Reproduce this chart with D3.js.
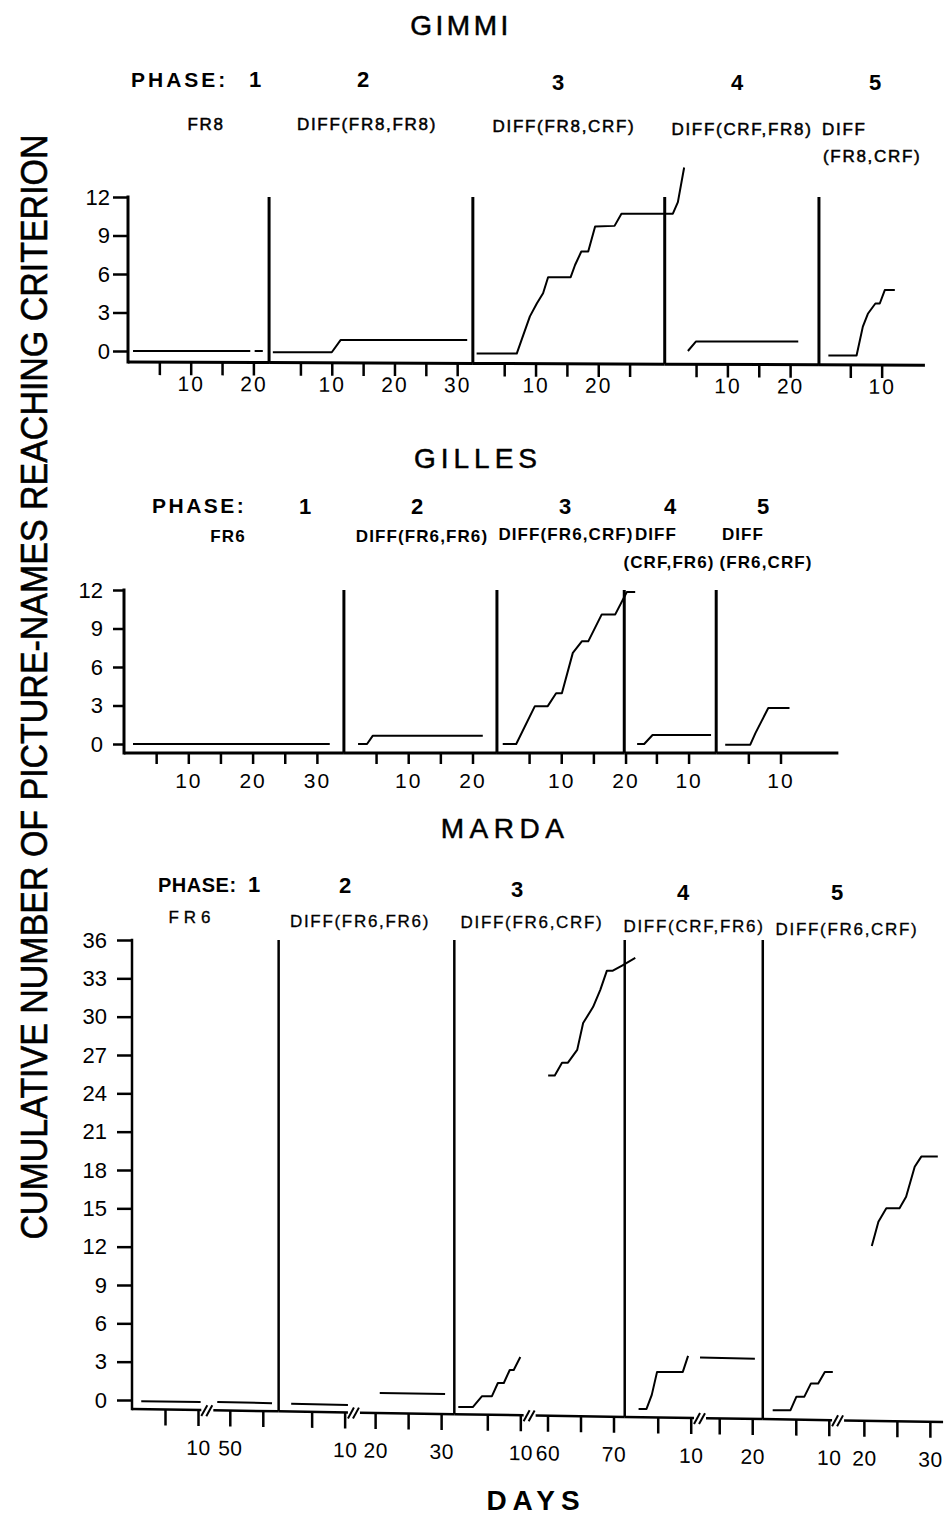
<!DOCTYPE html>
<html>
<head>
<meta charset="utf-8">
<script src="https://cdn.jsdelivr.net/npm/d3@7"></script>
<style>
body { margin: 0; background: #fff; }
svg text { font-family: 'Liberation Sans', Arial, sans-serif; fill: #000; }
</style>
</head>
<body>
<svg id="chart" width="944" height="1515"></svg>
<script>
// ---- data ----
const phaseNumbers = ['1', '2', '3', '4', '5'];
const yAxisTitle = 'CUMULATIVE NUMBER OF PICTURE-NAMES REACHING CRITERION';
const xAxisTitle = 'DAYS';

// GIMMI
const gimmiConditions = [['FR8'], ['DIFF(FR8,FR8)'], ['DIFF(FR8,CRF)'], ['DIFF(CRF,FR8)'], ['DIFF', '(FR8,CRF)']];
const gimmiPhaseDays = [[[0, 22.5]], [[0, 32.5]], [[0, 30.6]], [[0, 24.6]], [[0, 16.9]]];
const gimmiTicks = [[5, 10, 15, 20], [5, 10, 15, 20, 25, 30], [5, 10, 15, 20, 25], [5, 10, 15, 20], [5, 10]];
const gimmiTickLabels = [[10, 20], [10, 20, 30], [10, 20], [10, 20], [10]];
const gimmiYTicks = [0, 3, 6, 9, 12];
const gimmiSeries = [
  [[[0.8, 0], [19.5, 0]], [[20.2, 0], [21.5, 0]]],
  [[[0.6, -0.1], [10, -0.1], [11.4, 0.85], [31.6, 0.85]]],
  [[[0.6, -0.2], [7.0, -0.2], [7.8, 0.9], [9.1, 2.7], [10.2, 3.7], [11.2, 4.5], [12.0, 5.75], [15.6, 5.75],
    [16.3, 6.7], [17.3, 7.75], [18.4, 7.75], [19.5, 9.7], [22.6, 9.75], [23.7, 10.7], [31.9, 10.7],
    [32.7, 11.6], [33.7, 14.3]]],
  [[[3.7, 0], [5.0, 0.75], [21.3, 0.75]]],
  [[[1.5, -0.35], [6.0, -0.35], [7.0, 1.9], [7.8, 2.9], [9.0, 3.7], [9.7, 3.7], [10.5, 4.75], [12.1, 4.75]]]
];

// GILLES
const gillesConditions = [['FR6'], ['DIFF(FR6,FR6)'], ['DIFF(FR6,CRF)'], ['DIFF', '(CRF,FR6)'], ['DIFF', '(FR6,CRF)']];
const gillesPhaseDays = [[[0, 34.2]], [[0, 23.8]], [[0, 19.8]], [[0, 14.3]], [[0, 19]]];
const gillesTicks = [[5, 10, 15, 20, 25, 30], [5, 10, 15, 20], [5, 10, 15, 20], [5, 10], [5, 10]];
const gillesTickLabels = [[10, 20, 30], [10, 20], [10, 20], [10], [10]];
const gillesYTicks = [0, 3, 6, 9, 12];
const gillesSeries = [
  [[[1.4, 0], [32, 0]]],
  [[[2.2, 0], [3.6, 0], [4.5, 0.65], [21.6, 0.65]]],
  [[[0.9, 0], [3.0, 0], [5.9, 2.95], [7.9, 2.95], [9.2, 3.95], [10.1, 3.95], [11.8, 7.1], [13.2, 8.0],
    [14.2, 8.0], [16.3, 10.1], [18.4, 10.1], [20.2, 11.85], [21.5, 11.85]]],
  [[[2.0, 0], [3.1, 0], [4.4, 0.7], [13.5, 0.7]]],
  [[[1.4, -0.05], [5.3, -0.05], [6.1, 0.85], [8.1, 2.8], [11.4, 2.8]]]
];

// MARDA (broken day axis: two visible stretches per phase)
const mardaConditions = [['FR6'], ['DIFF(FR6,FR6)'], ['DIFF(FR6,CRF)'], ['DIFF(CRF,FR6)'], ['DIFF(FR6,CRF)']];
const mardaPhaseDays = [
  [[0, 10.5], [47.5, 57.4]],
  [[0, 10.5], [17.7, 32]],
  [[0, 10.5], [58.2, 71.7]],
  [[0, 10.5], [13, 21.6]],
  [[0, 10.5], [17, 32]]
];
const mardaTicks = [[5, 10, 50, 55], [5, 10, 20, 25, 30], [5, 10, 60, 65, 70], [5, 10, 15, 20], [5, 10, 20, 25, 30]];
const mardaTickLabels = [[10, 50], [10, 20, 30], [10, 60, 70], [10, 20], [10, 20, 30]];
const mardaYTicks = [0, 3, 6, 9, 12, 15, 18, 21, 24, 27, 30, 33, 36];
const mardaSeries = [
  [[[1.4, -0.1], [10.4, -0.15]], [[48.1, -0.15], [56.4, -0.25]]],
  [[[1.9, -0.3], [10.5, -0.4]], [[20.7, 0.55], [30.6, 0.47]]],
  [[[0.6, -0.55], [2.8, -0.55], [4.2, 0.3], [5.7, 0.3], [6.6, 1.33], [7.5, 1.33], [8.4, 2.35], [9.0, 2.35], [10.0, 3.36]],
   [[60.1, 25.4], [61.1, 25.4], [62.2, 26.4], [63.1, 26.4], [64.5, 27.4], [65.4, 29.5], [66.9, 30.75],
    [68.0, 32.1], [69.0, 33.6], [69.9, 33.6], [71.3, 34.0], [73.3, 34.6]]],
  [[[2.1, -0.7], [3.3, -0.7], [4.1, 0.4], [4.9, 2.2], [8.8, 2.2], [9.6, 3.45]], [[11.75, 3.33], [20.4, 3.23]]],
  [[[1.5, -0.8], [4.2, -0.8], [5.1, 0.26], [6.3, 0.26], [7.3, 1.3], [8.4, 1.3], [9.4, 2.2], [10.9, 2.2]],
   [[21.2, 12.05], [22.2, 13.95], [23.4, 15.0], [25.4, 15.0], [26.4, 15.9], [27.7, 18.25], [28.7, 19.05], [31.2, 19.05]]]
];

// ---- layout ----
const panels = [
  {
    name: 'GIMMI', title: [461, 35, 3.5], phaseLabel: [131, 87, 'PHASE:', 3, 21],
    numX: [255, 363, 558, 737, 875], numY: [87, 87, 90, 90, 90],
    conditions: gimmiConditions,
    condPos: [[[206, 130]], [[367, 130]], [[564, 132]], [[742, 135]], [[822, 135, 'start'], [823, 162, 'start']]],
    condSize: 17, condSpacing: 1.7, condWeight: 'normal', condStroke: 0.5,
    phases: gimmiPhaseDays, ticks: gimmiTicks, tickLabels: gimmiTickLabels, yTicks: gimmiYTicks, series: gimmiSeries,
    x0: 128, ppd: 6.27, gap: 0, yMax: 12, yZero: 351, yTop: 197, drop: 11, tilt: 0.004,
    yTickSize: 15, yTickPad: 3, yFont: 22, xTickSize: 13, xTickPad: 1, xFont: 21, xLs: 2,
    axisW: 3, phaseW: 3, lineW: 2
  },
  {
    name: 'GILLES', title: [478, 468, 5], phaseLabel: [152, 513, 'PHASE:', 2.5, 21],
    numX: [305, 417, 565, 670, 763], numY: [514, 514, 514, 514, 514],
    conditions: gillesConditions,
    condPos: [[[228, 542]], [[422, 542]], [[566, 540]], [[656, 540], [669, 568]], [[743, 540], [766, 568]]],
    condSize: 17, condSpacing: 1.1, condWeight: 'bold', condStroke: 0,
    phases: gillesPhaseDays, ticks: gillesTicks, tickLabels: gillesTickLabels, yTicks: gillesYTicks, series: gillesSeries,
    x0: 124, ppd: 6.43, gap: 0, yMax: 12, yZero: 744, yTop: 590, drop: 9, tilt: 0,
    yTickSize: 11, yTickPad: 10, yFont: 22, xTickSize: 11, xTickPad: 9, xFont: 21, xLs: 2,
    axisW: 3, phaseW: 3, lineW: 2
  },
  {
    name: 'MARDA', title: [505, 838, 5.5], phaseLabel: [158, 892, 'PHASE:', 0.5, 20],
    numX: [254, 345, 517, 683, 837], numY: [892, 893, 897, 900, 900],
    conditions: mardaConditions,
    condPos: [[[192, 923]], [[360, 927]], [[532, 928]], [[694, 932]], [[847, 935]]],
    condSize: 17, condSpacing: 1.7, condWeight: 'normal', condStroke: 0.3,
    phases: mardaPhaseDays, ticks: mardaTicks, tickLabels: mardaTickLabels, yTicks: mardaYTicks, series: mardaSeries,
    x0: 132, ppd: 6.6, gap: 12, yMax: 36, yZero: 1400, yTop: 940, drop: 9, tilt: 0.016,
    yTickSize: 15, yTickPad: 10, yFont: 22, xTickSize: 16, xTickPad: 14, xFont: 21, xLs: 0.5,
    axisW: 2.5, phaseW: 2.5, lineW: 2
  }
];

const svg = d3.select('#chart');

// y axis title, rotated
svg.append('text')
  .attr('transform', 'translate(47,687) rotate(-90)')
  .attr('text-anchor', 'middle')
  .attr('font-size', 36)
  .attr('textLength', 1105)
  .attr('lengthAdjust', 'spacingAndGlyphs')
  .style('stroke', '#000').style('stroke-width', 0.6)
  .text(yAxisTitle);

svg.append('text')
  .attr('x', 536).attr('y', 1510)
  .attr('text-anchor', 'middle')
  .attr('font-size', 28).attr('font-weight', 'bold')
  .attr('letter-spacing', 6)
  .text(xAxisTitle);

panels.forEach(drawPanel);

function buildPhaseScales(p) {
  let x = p.x0;
  return p.phases.map(segs => {
    const dom = [], rng = [];
    segs.forEach((s, i) => {
      if (i > 0) x += p.gap;
      dom.push(s[0], s[1]);
      rng.push(x, x + (s[1] - s[0]) * p.ppd);
      x = rng[rng.length - 1];
    });
    return d3.scaleLinear().domain(dom).range(rng);
  });
}

function drawPanel(p) {
  const g = svg.append('g');
  const y = d3.scaleLinear().domain([0, p.yMax]).range([p.yZero, p.yTop]);
  const xs = buildPhaseScales(p);
  const base = p.yZero + p.drop;
  const baseAt = x => base + (x - p.x0) * p.tilt;
  const skew = Math.atan(p.tilt) * 180 / Math.PI;

  // title and phase headers
  g.append('text')
    .attr('x', p.title[0]).attr('y', p.title[1])
    .attr('text-anchor', 'middle')
    .attr('font-size', 28).attr('letter-spacing', p.title[2])
    .style('stroke', '#000').style('stroke-width', 0.5)
    .text(p.name);

  g.append('text')
    .attr('x', p.phaseLabel[0]).attr('y', p.phaseLabel[1])
    .attr('font-size', p.phaseLabel[4]).attr('font-weight', 'bold')
    .attr('letter-spacing', p.phaseLabel[3])
    .text(p.phaseLabel[2]);

  g.selectAll('.num').data(phaseNumbers).join('text')
    .attr('x', (d, i) => p.numX[i]).attr('y', (d, i) => p.numY[i])
    .attr('text-anchor', 'middle')
    .attr('font-size', 22).attr('font-weight', 'bold')
    .text(d => d);

  p.conditions.forEach((lines, i) => {
    lines.forEach((t, j) => {
      const pos = p.condPos[i][j];
      g.append('text')
        .attr('x', pos[0]).attr('y', pos[1])
        .attr('text-anchor', pos[2] || 'middle')
        .attr('font-size', p.condSize)
        .attr('font-weight', p.condWeight)
        .attr('letter-spacing', p.name === 'MARDA' && t === 'FR6' ? 5 : p.condSpacing)
        .style('stroke', '#000').style('stroke-width', p.condStroke)
        .text(t);
    });
  });

  // y axis
  const yAxis = g.append('g')
    .attr('transform', `translate(${p.x0},0)`)
    .call(d3.axisLeft(y).tickValues(p.yTicks).tickSize(p.yTickSize).tickPadding(p.yTickPad));
  yAxis.select('.domain').remove();
  yAxis.selectAll('line').attr('stroke', '#000').attr('stroke-width', 2.5);
  yAxis.selectAll('text').attr('font-size', p.yFont).attr('font-family', null).attr('fill', '#000');

  g.append('line')
    .attr('x1', p.x0).attr('x2', p.x0)
    .attr('y1', y(p.yMax)).attr('y2', baseAt(p.x0))
    .attr('stroke', '#000').attr('stroke-width', p.axisW)
    .attr('stroke-linecap', 'square');

  // x axis, one piece per phase (and per stretch when broken)
  const xg = g.append('g')
    .attr('transform', `translate(${p.x0},${base}) skewY(${skew}) translate(${-p.x0},0)`);

  xs.forEach((sc, i) => {
    const ax = xg.append('g')
      .call(d3.axisBottom(sc).tickValues(p.ticks[i]).tickSize(p.xTickSize).tickPadding(p.xTickPad)
        .tickFormat(d => p.tickLabels[i].includes(d) ? d : ''));
    ax.select('.domain').remove();
    ax.selectAll('line').attr('stroke', '#000').attr('stroke-width', 2.5);
    ax.selectAll('text').attr('font-size', p.xFont).attr('font-family', null)
      .attr('letter-spacing', p.xLs).attr('fill', '#000');

    const dom = sc.domain();
    for (let k = 0; k < dom.length; k += 2) {
      xg.append('line')
        .attr('x1', sc(dom[k])).attr('x2', sc(dom[k + 1]))
        .attr('y1', 0).attr('y2', 0)
        .attr('stroke', '#000').attr('stroke-width', p.axisW);
      if (dom.length > 2) {
        const bx = k === 0 ? sc(dom[k + 1]) + 3 : sc(dom[k]) - 4;
        xg.append('line')
          .attr('x1', bx - 3).attr('x2', bx + 3)
          .attr('y1', 6).attr('y2', -5)
          .attr('stroke', '#000').attr('stroke-width', 2);
      }
    }
  });

  // phase boundary lines
  const bounds = xs.slice(1).map(sc => sc(sc.domain()[0]));
  g.selectAll('.phase-line').data(bounds).join('line')
    .attr('x1', d => d).attr('x2', d => d)
    .attr('y1', y(p.yMax)).attr('y2', d => baseAt(d))
    .attr('stroke', '#000').attr('stroke-width', p.phaseW);

  // cumulative records
  const line = d3.line();
  p.series.forEach((pieces, i) => {
    g.selectAll(null).data(pieces).join('path')
      .attr('d', pts => line(pts.map(d => [xs[i](d[0]), y(d[1])])))
      .attr('fill', 'none')
      .attr('stroke', '#000')
      .attr('stroke-width', p.lineW)
      .attr('stroke-linejoin', 'round');
  });
}
</script>
</body>
</html>
